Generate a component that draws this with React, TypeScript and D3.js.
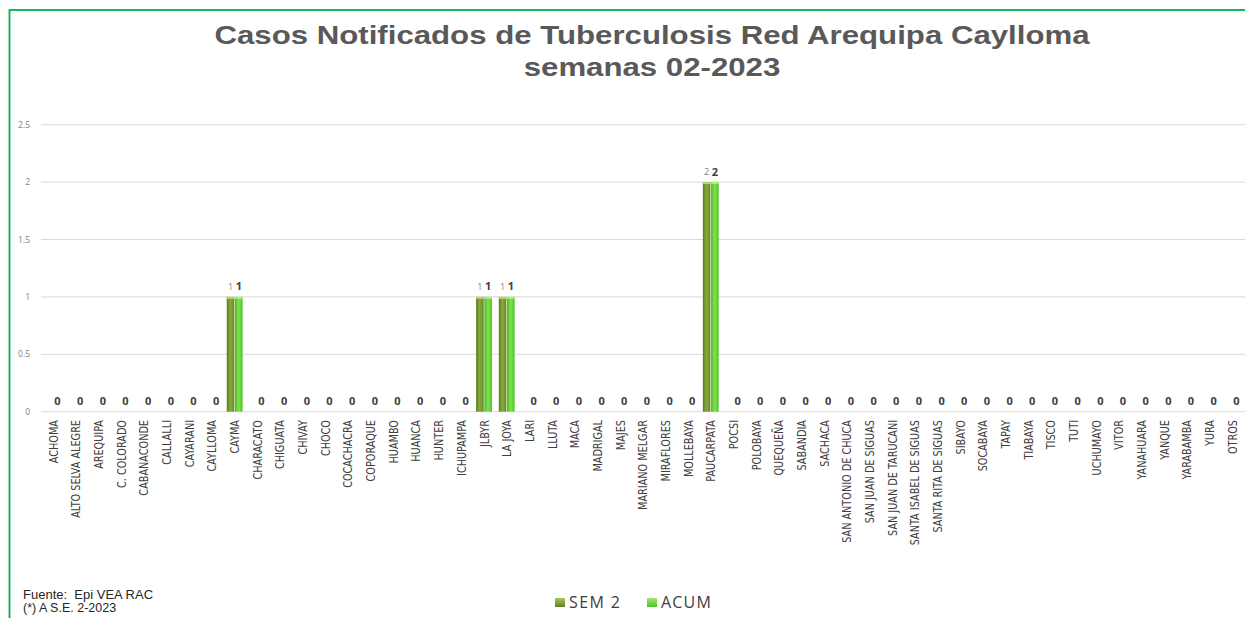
import React from "react";
import * as d3 from "d3";

const categories = [
  "ACHOMA", "ALTO SELVA ALEGRE", "AREQUIPA", "C. COLORADO", "CABANACONDE", "CALLALLI",
  "CAYARANI", "CAYLLOMA", "CAYMA", "CHARACATO", "CHIGUATA", "CHIVAY", "CHOCO",
  "COCACHACRA", "COPORAQUE", "HUAMBO", "HUANCA", "HUNTER", "ICHUPAMPA", "JLBYR",
  "LA JOYA", "LARI", "LLUTA", "MACA", "MADRIGAL", "MAJES", "MARIANO MELGAR",
  "MIRAFLORES", "MOLLEBAYA", "PAUCARPATA", "POCSI", "POLOBAYA", "QUEQUEÑA",
  "SABANDIA", "SACHACA", "SAN ANTONIO DE CHUCA", "SAN JUAN DE SIGUAS",
  "SAN JUAN DE TARUCANI", "SANTA ISABEL DE SIGUAS", "SANTA RITA DE SIGUAS", "SIBAYO",
  "SOCABAYA", "TAPAY", "TIABAYA", "TISCO", "TUTI", "UCHUMAYO", "VITOR", "YANAHUARA",
  "YANQUE", "YARABAMBA", "YURA", "OTROS",
];

const sem2 = [
  0, 0, 0, 0, 0, 0, 0, 0, 1, 0, 0, 0, 0, 0, 0, 0, 0, 0, 0, 1, 1, 0, 0, 0, 0, 0, 0,
  0, 0, 2, 0, 0, 0, 0, 0, 0, 0, 0, 0, 0, 0, 0, 0, 0, 0, 0, 0, 0, 0, 0, 0, 0, 0,
];

const acum = [
  0, 0, 0, 0, 0, 0, 0, 0, 1, 0, 0, 0, 0, 0, 0, 0, 0, 0, 0, 1, 1, 0, 0, 0, 0, 0, 0,
  0, 0, 2, 0, 0, 0, 0, 0, 0, 0, 0, 0, 0, 0, 0, 0, 0, 0, 0, 0, 0, 0, 0, 0, 0, 0,
];

const yTicks = [0, 0.5, 1, 1.5, 2, 2.5];
const seriesNames = ["SEM 2", "ACUM"];

const W = 1245;
const H = 618;

export default function App() {
  const x = d3.scaleBand<string>().domain(categories).range([42, 1243.5]).paddingInner(0.3).paddingOuter(0.15);
  const xs = d3.scaleBand<string>().domain(seriesNames).range([0, x.bandwidth()]).paddingInner(0.08);
  const y = d3.scaleLinear().domain([0, 2.5]).range([411.7, 124.7]);
  const fills = ["url(#gSem)", "url(#gAcum)"];
  const data = [sem2, acum];
  const labelFont = "'Liberation Sans Narrow', 'DejaVu Sans Condensed', 'Open Sans', sans-serif";
  const titleFont = "'Liberation Sans', Arial, sans-serif";

  return (
    <svg width={W} height={H} style={{ position: "absolute", left: 0, top: 0, display: "block", background: "#fff" }}>
      <defs>
        <linearGradient id="gSem" x1="0" x2="1" y1="0" y2="0">
          <stop offset="0" stopColor="#5a7a1e" />
          <stop offset="0.45" stopColor="#86ab3a" />
          <stop offset="1" stopColor="#68882a" />
        </linearGradient>
        <linearGradient id="gAcum" x1="0" x2="1" y1="0" y2="0">
          <stop offset="0" stopColor="#4cb52a" />
          <stop offset="0.45" stopColor="#7ee44a" />
          <stop offset="1" stopColor="#56c02e" />
        </linearGradient>
        <linearGradient id="gLegSem" x1="0" x2="0" y1="0" y2="1">
          <stop offset="0" stopColor="#a4c95a" />
          <stop offset="1" stopColor="#5f7f22" />
        </linearGradient>
        <linearGradient id="gLegAcum" x1="0" x2="0" y1="0" y2="1">
          <stop offset="0" stopColor="#9be870" />
          <stop offset="1" stopColor="#52c02a" />
        </linearGradient>
      </defs>

      <rect x={9.5} y={10} width={1300} height={700} fill="none" stroke="#00b050" strokeWidth={1.8} />

      <text transform="translate(652,43.5) scale(1.2,1)" textAnchor="middle" fontFamily={titleFont} fontWeight="bold" fontSize={26} fill="#595959">
        Casos Notificados de Tuberculosis Red Arequipa Caylloma
      </text>
      <text transform="translate(652,76) scale(1.2,1)" textAnchor="middle" fontFamily={titleFont} fontWeight="bold" fontSize={26} fill="#595959">
        semanas 02-2023
      </text>

      {yTicks.map((t) => (
        <g key={t}>
          <line x1={41} x2={W} y1={y(t)} y2={y(t)} stroke="#d9d9d9" strokeWidth={1} />
          <text x={30} y={y(t) + 3} textAnchor="end" fontFamily="'Open Sans', sans-serif" fontSize={8.5} fill="#7f7f7f">
            {t}
          </text>
        </g>
      ))}

      {categories.map((c, i) => (
        <g key={c}>
          {data.map((vals, s) => {
            const v = vals[i];
            const bx = (x(c) as number) + (xs(seriesNames[s]) as number);
            const bw = xs.bandwidth();
            return v > 0 ? (
              <g key={s}>
                <rect x={bx} y={y(v)} width={bw} height={y(0) - y(v)} fill={fills[s]} />
                <rect x={bx} y={y(v)} width={bw} height={2} fill={s === 0 ? "#b6d86a" : "#a8f07a"} />
              </g>
            ) : null;
          })}
          {sem2[i] > 0 ? (
            <text x={(x(c) as number) + (xs("SEM 2") as number) + xs.bandwidth() / 2} y={y(sem2[i]) - 7} textAnchor="middle" fontFamily="'Open Sans', sans-serif" fontSize={9} fill="#7f7f7f">
              {sem2[i]}
            </text>
          ) : null}
          <text x={(x(c) as number) + (xs("ACUM") as number) + xs.bandwidth() / 2} y={y(acum[i]) - 6.5} textAnchor="middle" fontFamily="'Open Sans', sans-serif" fontWeight="bold" fontSize={11} fill="#404040">
            {acum[i]}
          </text>
          <text
            transform={`translate(${(x(c) as number) + x.bandwidth() / 2},420) rotate(-90) scale(0.98,1.15)`}
            textAnchor="end"
            dy="0.35em"
            fontFamily={labelFont}
            fontSize={11}
            fill="#404040"
          >
            {c}
          </text>
        </g>
      ))}

      <text x={23} y={599} fontFamily={titleFont} fontSize={13} fill="#262626" style={{ whiteSpace: "pre" }}>
        {"Fuente:  Epi VEA RAC"}
      </text>
      <text x={23} y={612} fontFamily={titleFont} fontSize={12.5} fill="#262626" style={{ whiteSpace: "pre" }}>
        {"(*) A S.E. 2-2023"}
      </text>

      <rect x={555} y={598} width={10} height={9} fill="url(#gLegSem)" />
      <text x={569} y={607.5} fontFamily="'Open Sans', sans-serif" fontSize={16} fill="#404040" letterSpacing={1.4}>
        SEM 2
      </text>
      <rect x={647} y={598} width={10} height={9} fill="url(#gLegAcum)" />
      <text x={661} y={607.5} fontFamily="'Open Sans', sans-serif" fontSize={16} fill="#404040" letterSpacing={1.2}>
        ACUM
      </text>
    </svg>
  );
}
